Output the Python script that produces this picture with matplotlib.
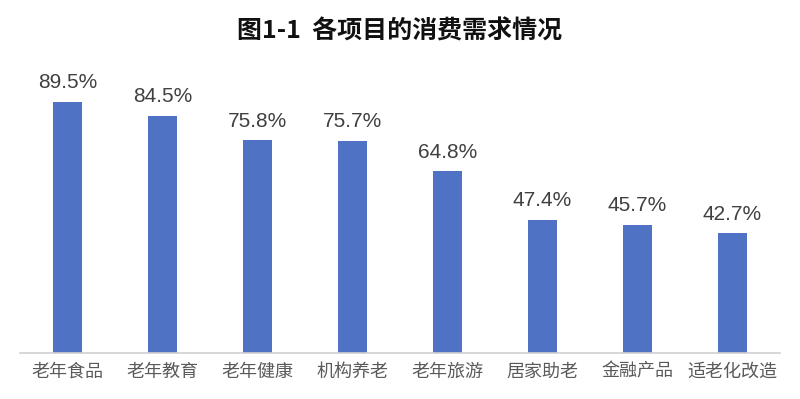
import matplotlib
matplotlib.use("Agg")
import matplotlib.pyplot as plt

plt.rcParams['font.family'] = ['Noto Sans CJK SC', 'DejaVu Sans']

# chart data
categories = ["老年食品", "老年教育", "老年健康", "机构养老", "老年旅游", "居家助老", "金融产品", "适老化改造"]
values = [89.5, 84.5, 75.8, 75.7, 64.8, 47.4, 45.7, 42.7]
title = "图1-1  各项目的消费需求情况"

fig = plt.figure(figsize=(8, 3.99), dpi=100)
ax = fig.add_axes([0.025, 0.1153, 0.95, 0.703])

x = range(len(categories))
bars = ax.bar(x, values, width=0.31, color="#4F72C5", zorder=2)

# value labels above each bar
for b, v in zip(bars, values):
    ax.annotate(f"{v:.1f}%", (b.get_x() + b.get_width() / 2, v),
                xytext=(0, 7), textcoords="offset points",
                ha="center", va="bottom", fontsize=15,
                family="Liberation Sans", color="#404040")

ax.set_xlim(-0.5, len(categories) - 0.5)
ax.set_ylim(0, 100)
ax.set_xticks(list(x))
ax.set_xticklabels(categories, fontsize=13, color="#5A5A5A")
ax.tick_params(axis="x", length=0, pad=7)
ax.set_yticks([])

for side in ("top", "right", "left"):
    ax.spines[side].set_visible(False)
ax.spines["bottom"].set_color("#D0D0D0")
ax.spines["bottom"].set_linewidth(1.2)

fig.text(0.5, 0.92, title, ha="center", va="center",
         fontsize=18, fontweight="bold", color="#111111")

fig.savefig("out.png", dpi=100)
